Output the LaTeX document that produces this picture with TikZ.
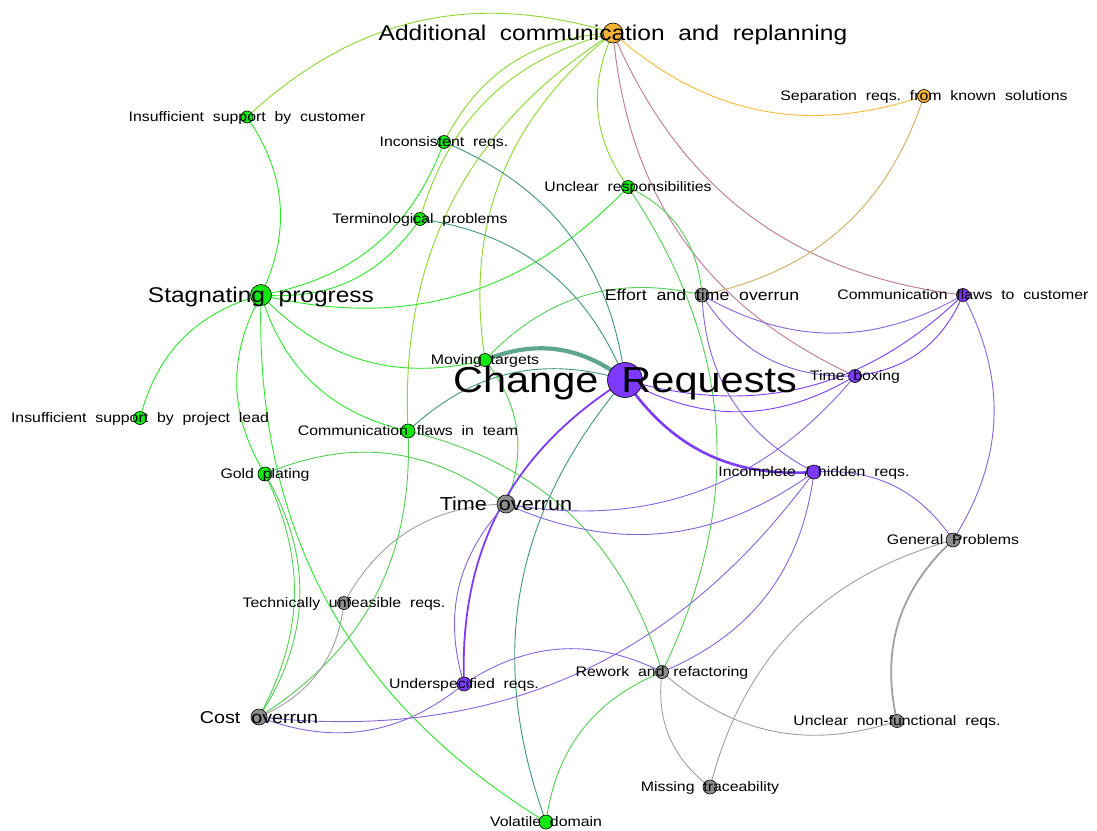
\documentclass[tikz,border=0pt]{standalone}
\usepackage{fontspec}
\usepackage{graphicx}
\setmainfont{Liberation Sans}
\definecolor{cgreen}{RGB}{17,232,17}
\definecolor{cpurple}{RGB}{125,58,250}
\definecolor{corange}{RGB}{245,180,55}
\definecolor{cgray}{RGB}{140,140,140}
\definecolor{egg}{RGB}{45,230,45}
\definecolor{eyg}{RGB}{140,215,50}
\definecolor{egG}{RGB}{85,205,85}
\definecolor{eteal}{RGB}{65,150,125}
\definecolor{epp}{RGB}{125,60,250}
\definecolor{epG}{RGB}{135,100,220}
\definecolor{emauve}{RGB}{190,120,150}
\definecolor{etan}{RGB}{210,170,100}
\definecolor{eor}{RGB}{250,185,55}
\definecolor{eGG}{RGB}{160,160,160}
\newcommand{\lbl}[2]{\scalebox{1}[0.87]{\fontsize{#1}{#1}\selectfont #2}}
\pgfdeclarelayer{bg}
\pgfsetlayers{bg,main}
\begin{document}
\begin{tikzpicture}[x=1pt,y=-1pt,
  nd/.style={circle,draw=black,line width=0.6pt,inner sep=0pt},
  ngreen/.style={nd,fill=cgreen},
  npurple/.style={nd,fill=cpurple},
  norange/.style={nd,fill=corange},
  ngray/.style={nd,fill=cgray},
  lab/.style={anchor=base,inner sep=0pt,text=black},
  ed/.style={line width=0.9pt,bend left=30},
]
\begin{pgfonlayer}{bg}
\fill[white] (0,0) rectangle (1097,830);
\end{pgfonlayer}
\useasboundingbox (0,0) rectangle (1097,830);

% nodes
\node[norange,minimum size=20pt] (AC) at (613,33) {};
\node[norange,minimum size=13pt] (SEP) at (924,96) {};
\node[ngreen,minimum size=12pt] (ISC) at (247,117) {};
\node[ngreen,minimum size=13pt] (INC) at (444,142) {};
\node[ngreen,minimum size=13pt] (UR) at (628,187) {};
\node[ngreen,minimum size=13pt] (TERM) at (420,219) {};
\node[ngreen,minimum size=21pt] (SP) at (261,295) {};
\node[ngray,minimum size=14pt] (ETO) at (702,295) {};
\node[npurple,minimum size=13pt] (CFC) at (963,295) {};
\node[ngreen,minimum size=13pt] (MT) at (485,360) {};
\node[npurple,minimum size=35pt] (CR) at (625,380) {};
\node[npurple,minimum size=13pt] (TB) at (855,376) {};
\node[ngreen,minimum size=13pt] (ISPL) at (140,418) {};
\node[ngreen,minimum size=14pt] (CFT) at (408,431) {};
\node[ngreen,minimum size=14pt] (GP) at (265,474) {};
\node[npurple,minimum size=14pt] (IHR) at (814,472) {};
\node[ngray,minimum size=18pt] (TO) at (506,504) {};
\node[ngray,minimum size=14pt] (GEN) at (953,540) {};
\node[ngray,minimum size=13pt] (TUR) at (344,603) {};
\node[npurple,minimum size=14pt] (UND) at (464,684) {};
\node[ngray,minimum size=13pt] (RR) at (662,672) {};
\node[ngray,minimum size=16pt] (CO) at (259,717) {};
\node[ngray,minimum size=13pt] (UNF) at (897,721) {};
\node[ngray,minimum size=14pt] (MTR) at (710,787) {};
\node[ngreen,minimum size=14pt] (VD) at (546,822) {};

% edges
\begin{pgfonlayer}{bg}
\draw[ed,draw=eyg] (ISC.center) to (AC.center);
\draw[ed,draw=eyg] (INC.center) to (AC.center);
\draw[ed,draw=eyg] (TERM.center) to (AC.center);
\draw[ed,draw=eyg] (CFT.center) to (AC.center);
\draw[ed,draw=eyg] (MT.center) to (AC.center);
\draw[ed,draw=eyg] (UR.center) to (AC.center);
\draw[ed,draw=eor] (SEP.center) to (AC.center);
\draw[ed,draw=emauve] (CFC.center) to (AC.center);
\draw[ed,draw=emauve] (TB.center) to (AC.center);
\draw[ed,draw=etan] (SEP.center) to (ETO.center);
\draw[ed,draw=egg] (ISC.center) to (SP.center);
\draw[ed,draw=egg] (ISPL.center) to (SP.center);
\draw[ed,draw=egg] (INC.center) to (SP.center);
\draw[ed,draw=egg] (TERM.center) to (SP.center);
\draw[ed,draw=egg] (UR.center) to (SP.center);
\draw[ed,draw=egg] (MT.center) to (SP.center);
\draw[ed,draw=egg] (CFT.center) to (SP.center);
\draw[ed,draw=egg] (GP.center) to (SP.center);
\draw[ed,draw=egg] (VD.center) to (SP.center);
\draw[ed,draw=egG,bend left=27] (GP.center) to (CO.center);
\draw[ed,draw=egG,bend left=32] (GP.center) to (CO.center);
\draw[ed,draw=egG] (GP.center) to (TO.center);
\draw[ed,draw=egG] (CFT.center) to (CO.center);
\draw[ed,draw=egG] (CFT.center) to (RR.center);
\draw[ed,draw=eteal] (CFT.center) to (CR.center);
\draw[ed,draw=eteal!85!white,line width=4.2pt] (MT.center) to (CR.center);
\draw[ed,draw=egG] (MT.center) to (ETO.center);
\draw[ed,draw=egG] (MT.center) to (TO.center);
\draw[ed,draw=eteal] (INC.center) to (CR.center);
\draw[ed,draw=eteal] (TERM.center) to (CR.center);
\draw[ed,draw=eteal] (VD.center) to (CR.center);
\draw[ed,draw=egG] (VD.center) to (RR.center);
\draw[ed,draw=egG] (UR.center) to (ETO.center);
\draw[ed,draw=egG] (UR.center) to (RR.center);
\draw[ed,draw=epp,line width=2.6pt] (IHR.center) to (CR.center);
\draw[ed,draw=epp] (TB.center) to (CR.center);
\draw[ed,draw=epp] (CFC.center) to (CR.center);
\draw[ed,draw=epp,line width=1.8pt] (UND.center) to (CR.center);
\draw[ed,draw=epG] (UND.center) to (TO.center);
\draw[ed,draw=epG] (TB.center) to (TO.center);
\draw[ed,draw=epG] (IHR.center) to (TO.center);
\draw[ed,draw=eGG] (TUR.center) to (TO.center);
\draw[ed,draw=eGG] (TUR.center) to (CO.center);
\draw[ed,draw=epG] (TB.center) to (ETO.center);
\draw[ed,draw=epG] (CFC.center) to (ETO.center);
\draw[ed,draw=epG] (IHR.center) to (ETO.center);
\draw[ed,draw=epp] (CFC.center) to (TB.center);
\draw[ed,draw=epG] (IHR.center) to (GEN.center);
\draw[ed,draw=epG] (CFC.center) to (GEN.center);
\draw[ed,draw=epG] (IHR.center) to (RR.center);
\draw[ed,draw=epG] (IHR.center) to (CO.center);
\draw[ed,draw=epG] (UND.center) to (CO.center);
\draw[ed,draw=epG] (UND.center) to (RR.center);
\draw[ed,draw=eGG] (MTR.center) to (RR.center);
\draw[ed,draw=eGG] (UNF.center) to (RR.center);
\draw[ed,draw=eGG,line width=1.8pt] (UNF.center) to (GEN.center);
\draw[ed,draw=eGG] (MTR.center) to (GEN.center);
\end{pgfonlayer}

% labels
\node[lab,yshift=-7.6pt] (lAC) at (AC) {\lbl{24.5}{Additional~~communication~~and~~replanning}};
\node[lab,yshift=-4.9pt] (lSEP) at (SEP) {\lbl{15.85}{Separation~~reqs.~~from~~known~~solutions}};
\node[lab,yshift=-4.9pt] (lISC) at (ISC) {\lbl{15.85}{Insufficient~~support~~by~~customer}};
\node[lab,yshift=-4.9pt] (lINC) at (INC) {\lbl{15.85}{Inconsistent~~reqs.}};
\node[lab,yshift=-4.9pt] (lUR) at (UR) {\lbl{15.85}{Unclear~~responsibilities}};
\node[lab,yshift=-4.9pt] (lTERM) at (TERM) {\lbl{15.85}{Terminological~~problems}};
\node[lab,yshift=-7.6pt] (lSP) at (SP) {\lbl{24.5}{Stagnating~~progress}};
\node[lab,yshift=-5.5pt] (lETO) at (ETO) {\lbl{17.7}{Effort~~and~~time~~overrun}};
\node[lab,yshift=-4.9pt] (lCFC) at (CFC) {\lbl{15.85}{Communication~~flaws~~to~~customer}};
\node[lab,yshift=-4.9pt] (lMT) at (MT) {\lbl{15.85}{Moving~~targets}};
\node[lab,yshift=-12.9pt] (lCR) at (CR) {\lbl{41.5}{Change~~Requests}};
\node[lab,yshift=-4.9pt] (lTB) at (TB) {\lbl{15.85}{Time~~boxing}};
\node[lab,yshift=-4.9pt] (lISPL) at (ISPL) {\lbl{15.85}{Insufficient~~support~~by~~project~~lead}};
\node[lab,yshift=-4.9pt] (lCFT) at (CFT) {\lbl{15.85}{Communication~~flaws~~in~~team}};
\node[lab,yshift=-4.9pt] (lGP) at (GP) {\lbl{15.85}{Gold~~plating}};
\node[lab,yshift=-4.9pt] (lIHR) at (IHR) {\lbl{15.85}{Incomplete~~/~~hidden~~reqs.}};
\node[lab,yshift=-6.7pt] (lTO) at (TO) {\lbl{21.6}{Time~~overrun}};
\node[lab,yshift=-4.9pt] (lGEN) at (GEN) {\lbl{15.85}{General~~Problems}};
\node[lab,yshift=-4.9pt] (lTUR) at (TUR) {\lbl{15.85}{Technically~~unfeasible~~reqs.}};
\node[lab,yshift=-4.9pt] (lUND) at (UND) {\lbl{15.85}{Underspecified~~reqs.}};
\node[lab,yshift=-4.9pt] (lRR) at (RR) {\lbl{15.85}{Rework~~and~~refactoring}};
\node[lab,yshift=-6.1pt] (lCO) at (CO) {\lbl{19.7}{Cost~~overrun}};
\node[lab,yshift=-4.9pt] (lUNF) at (UNF) {\lbl{15.85}{Unclear~~non-functional~~reqs.}};
\node[lab,yshift=-4.9pt] (lMTR) at (MTR) {\lbl{15.85}{Missing~~traceability}};
\node[lab,yshift=-4.9pt] (lVD) at (VD) {\lbl{15.85}{Volatile~~domain}};
\end{tikzpicture}
\end{document}
